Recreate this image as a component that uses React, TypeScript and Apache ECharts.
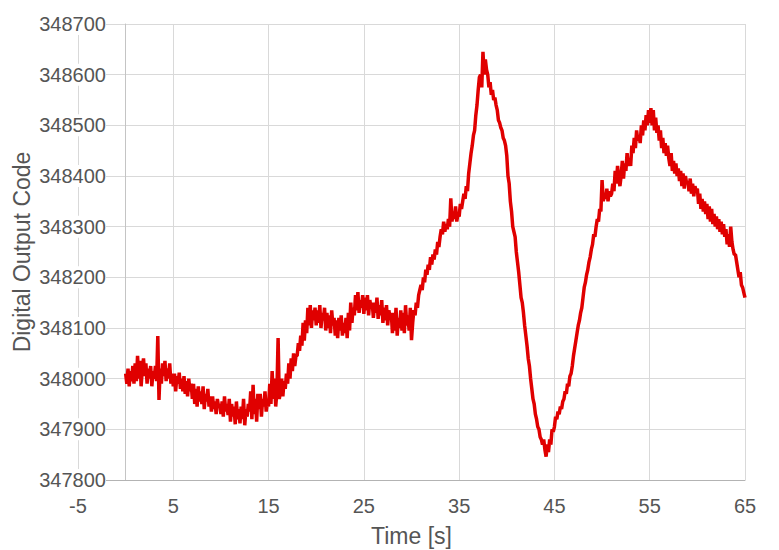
import React, { useEffect, useRef } from "react";
import * as echarts from "echarts";

// Sample spacing of the recorded signal, seconds
const sampleInterval = 0.125;

// Digital output code, 8 samples per second starting at t = 0 s
const codes0to16: number[] = [
  348010, 347990, 348020, 347985, 348015, 347995, 348025, 347990,
  348030, 347995, 348045, 348000, 348035, 347985, 348020, 348040,
  348005, 348030, 347990, 348020, 348000, 348025, 347985, 348015,
  348000, 348025, 347995, 348084, 347958, 348020, 347990, 348030,
  348005, 348035, 347995, 348020, 348000, 348030, 347990, 348010,
  347985, 348010, 347975, 348005, 347990, 348012, 347980, 348000,
  347975, 348005, 347970, 347995, 347965, 348000, 347975, 347990,
  347960, 347990, 347950, 347980, 347945, 347985, 347955, 347975,
  347950, 347985, 347940, 347970, 347955, 347980, 347945, 347965,
  347935, 347965, 347940, 347955, 347930, 347960, 347945, 347950,
  347930, 347955, 347925, 347965, 347935, 347950, 347928, 347960,
  347915, 347950, 347925, 347945, 347910, 347955, 347920, 347940,
  347912, 347945, 347920, 347960, 347908, 347940, 347925, 347950,
  347935, 347975, 347920, 347988, 347930, 347960, 347915, 347970,
  347940, 347970, 347925, 347960, 347945, 347975, 347935, 347955,
  347945, 347990, 347950, 348015, 347960, 348000, 347945, 347975,
];
const codes16to32: number[] = [
  348080, 347960, 347975, 348000, 347965, 347995, 347980, 348010,
  347990, 348030, 348000, 348040, 348015, 348050, 348025, 348045,
  348045, 348070, 348055, 348085, 348065, 348110, 348075, 348115,
  348090, 348140, 348105, 348145, 348100, 348135, 348115, 348140,
  348105, 348135, 348110, 348145, 348100, 348130, 348115, 348140,
  348095, 348130, 348100, 348125, 348090, 348135, 348105, 348120,
  348085, 348115, 348080, 348120, 348095, 348125, 348085, 348110,
  348090, 348120, 348080, 348130, 348095, 348150, 348110, 348140,
  348125, 348165, 348135, 348171, 348130, 348155, 348140, 348165,
  348128, 348160, 348135, 348165, 348125, 348155, 348140, 348150,
  348120, 348150, 348130, 348160, 348118, 348145, 348125, 348155,
  348110, 348140, 348115, 348145, 348105, 348135, 348120, 348130,
  348090, 348130, 348095, 348140, 348085, 348120, 348100, 348135,
  348095, 348130, 348090, 348145, 348105, 348125, 348095, 348140,
  348076, 348110, 348135, 348125, 348150, 348140, 348165, 348175,
  348185, 348175, 348200, 348190, 348215, 348205, 348225, 348215,
];
const codes32to48: number[] = [
  348240, 348225, 348245, 348235, 348255, 348245, 348270, 348260,
  348280, 348295, 348285, 348310, 348290, 348305, 348295, 348315,
  348300, 348356, 348310, 348330, 348315, 348340, 348310, 348325,
  348320, 348345, 348335, 348350, 348365, 348355, 348380, 348370,
  348405, 348425, 348445, 348460, 348480, 348490, 348520, 348540,
  348570, 348595, 348600, 348575, 348645, 348600, 348630, 348610,
  348600, 348575, 348585, 348560, 348570, 348550, 348555, 348540,
  348530, 348510, 348505, 348495, 348490, 348475, 348470, 348460,
  348440, 348400, 348385, 348350, 348330, 348300, 348290, 348280,
  348250, 348230, 348210, 348185, 348160, 348150, 348130, 348105,
  348085, 348065, 348040, 348025, 348000, 347980, 347960, 347950,
  347930, 347920, 347905, 347900, 347885, 347880, 347870, 347880,
  347860, 347846, 347870, 347855, 347880, 347870, 347900, 347895,
  347905, 347925, 347920, 347935, 347930, 347945, 347940, 347955,
  347960, 347975, 347970, 347990, 347985, 348005, 348010, 348025,
  348045, 348060, 348075, 348090, 348105, 348115, 348130, 348140,
];
const codes48to65: number[] = [
  348160, 348180, 348190, 348205, 348215, 348230, 348240, 348255,
  348265, 348285, 348280, 348300, 348315, 348310, 348335, 348330,
  348392, 348350, 348365, 348355, 348375, 348350, 348370, 348360,
  348365, 348385, 348370, 348410, 348385, 348420, 348395, 348380,
  348400, 348430, 348395, 348425, 348410, 348445, 348420, 348435,
  348420, 348460, 348445, 348475, 348455, 348490, 348470, 348480,
  348465, 348500, 348480, 348510, 348490, 348520, 348500, 348530,
  348505, 348534, 348500, 348530, 348490, 348515, 348485, 348500,
  348470, 348490, 348455, 348475, 348445, 348465, 348440, 348460,
  348435, 348420, 348445, 348410, 348430, 348405, 348425, 348400,
  348415, 348390, 348410, 348380, 348405, 348375, 348400, 348385,
  348390, 348370, 348395, 348365, 348385, 348360, 348380, 348370,
  348375, 348345, 348365, 348335, 348355, 348330, 348350, 348325,
  348345, 348315, 348340, 348310, 348335, 348305, 348325, 348300,
  348320, 348295, 348315, 348290, 348310, 348285, 348305, 348280,
  348295, 348265, 348285, 348260, 348300, 348270, 348255, 348245,
  348245, 348230, 348215, 348200, 348210, 348185, 348180, 348170,
  348160,
];

const codes = [...codes0to16, ...codes16to32, ...codes32to48, ...codes48to65];

const xAxisMin = -5;
const xAxisMax = 65;
const xAxisStep = 10;
const yAxisMin = 347800;
const yAxisMax = 348700;
const yAxisStep = 100;

const xTitle = "Time [s]";
const yTitle = "Digital Output Code";

export default function App() {
  const ref = useRef<HTMLDivElement>(null);

  useEffect(() => {
    if (!ref.current) return;
    const chart = echarts.init(ref.current, null, { renderer: "svg" });
    const points = codes.map((v, i) => [i * sampleInterval, v]);
    const font = "'Liberation Sans', Arial, sans-serif";
    chart.setOption({
      animation: false,
      backgroundColor: "#ffffff",
      grid: {
        left: 78,
        right: 34,
        top: 24,
        bottom: 70,
        containLabel: false,
        outerBoundsMode: "none",
      },
      xAxis: {
        type: "value",
        min: xAxisMin,
        max: xAxisMax,
        interval: xAxisStep,
        name: xTitle,
        nameLocation: "middle",
        nameGap: 44,
        nameTextStyle: { fontSize: 23, color: "#555", fontFamily: font },
        axisLine: { show: true, onZero: false, lineStyle: { color: "#b3b3b3", width: 1 } },
        axisTick: { show: false },
        axisLabel: { fontSize: 20, color: "#555", fontFamily: font, margin: 16 },
        splitLine: { show: true, lineStyle: { color: "#d9d9d9", width: 1 } },
      },
      yAxis: {
        type: "value",
        min: yAxisMin,
        max: yAxisMax,
        interval: yAxisStep,
        name: yTitle,
        nameLocation: "middle",
        nameRotate: 90,
        nameGap: 45,
        nameMoveOverlap: false,
        nameTextStyle: { fontSize: 23, color: "#555", fontFamily: font },
        axisLine: { show: true, onZero: true, lineStyle: { color: "#c4c4c4", width: 1 } },
        axisTick: { show: false },
        axisLabel: {
          fontSize: 20,
          color: "#555",
          fontFamily: font,
          margin: -28,
          formatter: (v: number) => String(v),
          backgroundColor: "#ffffff",
          padding: [1, 0, 1, 2],
        },
        splitLine: { show: true, lineStyle: { color: "#d9d9d9", width: 1 } },
      },
      series: [
        {
          type: "line",
          data: points,
          showSymbol: false,
          symbol: "none",
          lineStyle: { color: "#e00000", width: 3.5 },
          itemStyle: { color: "#e00000" },
        },
      ],
    });
    return () => chart.dispose();
  }, []);

  return <div ref={ref} style={{ width: 779, height: 550, position: "absolute", left: 0, top: 0 }} />;
}
